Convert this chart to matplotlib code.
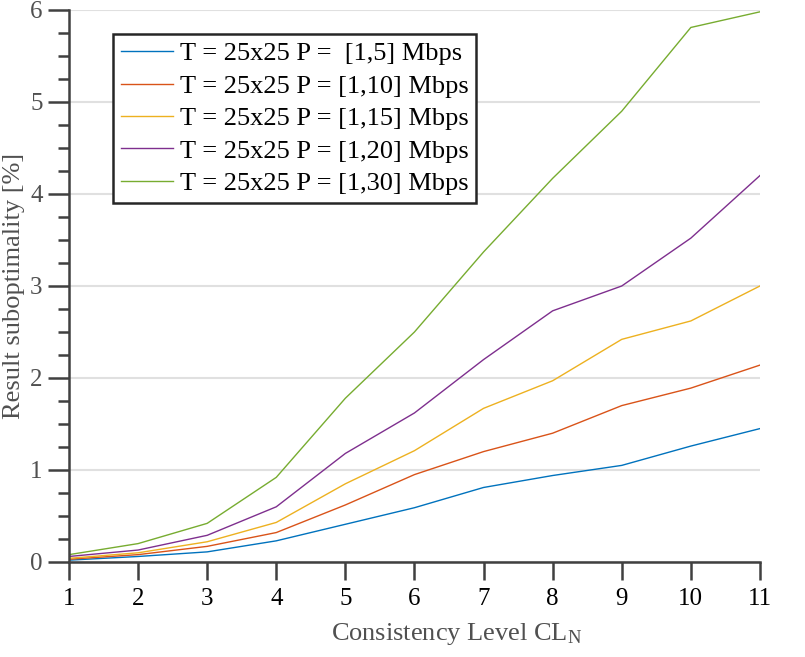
import matplotlib
matplotlib.use("Agg")
import matplotlib.pyplot as plt
from matplotlib.ticker import MultipleLocator

plt.rcParams['font.family'] = ['Liberation Serif', 'DejaVu Serif']
plt.rcParams['mathtext.fontset'] = 'custom'
plt.rcParams['mathtext.rm'] = 'Liberation Serif'
plt.rcParams['mathtext.it'] = 'Liberation Serif:italic'

x = [1, 2, 3, 4, 5, 6, 7, 8, 9, 10, 11]
p5 = [0.02, 0.06, 0.11, 0.23, 0.41, 0.59, 0.81, 0.94, 1.05, 1.26, 1.45]
p10 = [0.03, 0.08, 0.17, 0.32, 0.62, 0.95, 1.20, 1.40, 1.70, 1.89, 2.14]
p15 = [0.04, 0.10, 0.22, 0.43, 0.85, 1.21, 1.67, 1.97, 2.42, 2.62, 3.00]
p20 = [0.06, 0.13, 0.29, 0.60, 1.18, 1.62, 2.20, 2.73, 3.00, 3.52, 4.20]
p30 = [0.08, 0.20, 0.42, 0.92, 1.78, 2.50, 3.37, 4.17, 4.90, 5.81, 5.98]
labels = ["T = 25x25 P =  [1,5] Mbps", "T = 25x25 P = [1,10] Mbps",
          "T = 25x25 P = [1,15] Mbps", "T = 25x25 P = [1,20] Mbps",
          "T = 25x25 P = [1,30] Mbps"]
colors = ["#0072BD", "#D95319", "#EDB120", "#7E2F8E", "#77AC30"]

fig = plt.figure(figsize=(8.05, 6.57), dpi=100)
ax = fig.add_axes([0.0857, 0.1446, 0.8583, 0.8402])

for ys, lab, c in zip([p5, p10, p15, p20, p30], labels, colors):
    ax.plot(x, ys, color=c, lw=1.0, label=lab)

ax.set_xlim(1, 11)
ax.set_ylim(0, 6)
ax.set_xticks(x)
ax.yaxis.set_major_locator(MultipleLocator(1))
ax.yaxis.set_minor_locator(MultipleLocator(0.25))
ax.grid(axis='y', which='major', color='#e0e0e0', lw=1.5)
ax.set_axisbelow(True)

for s in ['top', 'right']:
    ax.spines[s].set_visible(False)
for s in ['left', 'bottom']:
    ax.spines[s].set_color('#404040')
    ax.spines[s].set_linewidth(1.8)

ax.tick_params(axis='x', which='major', direction='out', length=13, width=1.8,
               color='#404040', labelsize=18, labelcolor='black', pad=6)
ax.tick_params(axis='y', which='major', direction='out', length=15, width=1.8,
               color='#404040', labelsize=18, labelcolor='#505050', pad=4)
ax.tick_params(axis='y', which='minor', direction='out', length=8, width=1.8,
               color='#404040')

ax.set_xlabel("Consistency Level CL$_\\mathrm{N}$", fontsize=19, color='#505050')
ax.xaxis.set_label_coords(0.561, -0.106)
ax.set_ylabel("Result suboptimality [%]", fontsize=19, color='#505050', labelpad=4)

leg = ax.legend(loc='upper left', bbox_to_anchor=(0.0637, 0.9565), fontsize=19,
                frameon=True, fancybox=False, edgecolor='#262626',
                handlelength=1.97, handletextpad=0.25, labelspacing=0.34,
                borderpad=0.3, borderaxespad=0)
leg.get_frame().set_linewidth(1.8)
leg.get_frame().set_alpha(1)

fig.savefig("out.png", dpi=100)
